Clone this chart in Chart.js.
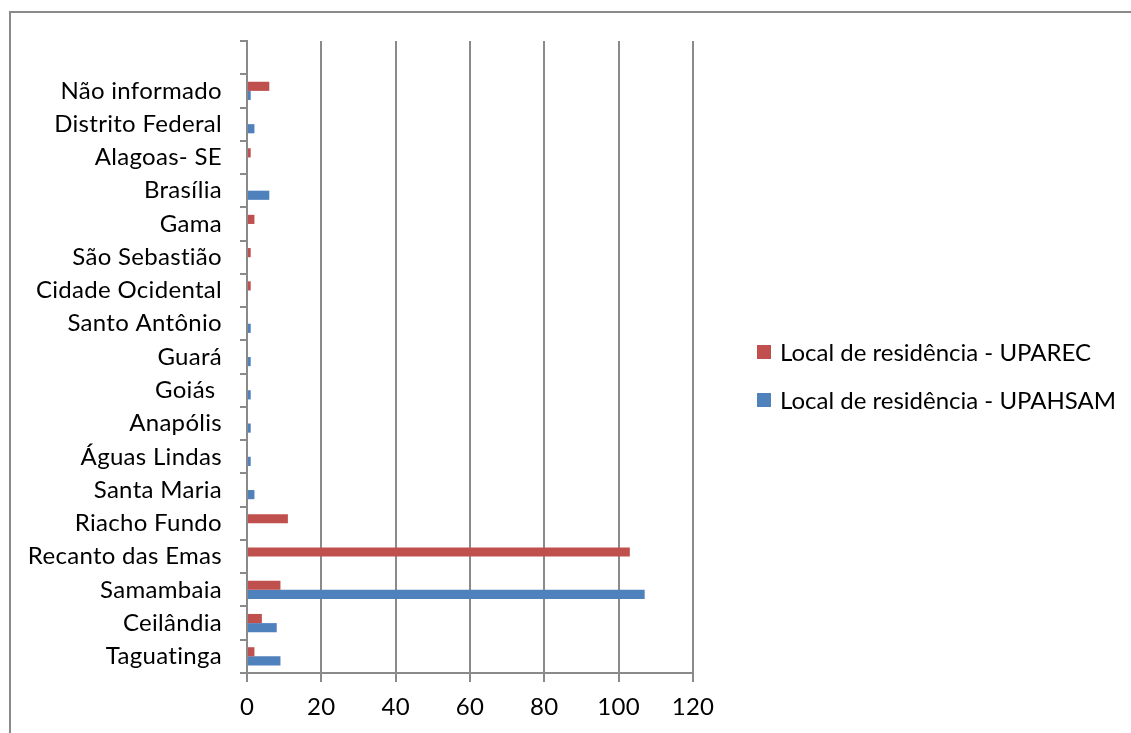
<!DOCTYPE html>
<html>
<head>
<meta charset="utf-8">
<script src="https://cdn.jsdelivr.net/npm/chart.js@4.4.1/dist/chart.umd.min.js"></script>
<style>
  html, body { margin: 0; padding: 0; background: #ffffff; }
  #wrap { position: relative; width: 1131px; height: 733px; }
</style>
</head>
<body>
<div id="wrap"><canvas id="chart" width="1131" height="733"></canvas></div>
<script>
// Categories listed top to bottom (the first band is left empty)
const categories = [
  '', 'Não informado', 'Distrito Federal', 'Alagoas- SE', 'Brasília', 'Gama',
  'São Sebastião', 'Cidade Ocidental', 'Santo Antônio', 'Guará', 'Goiás ',
  'Anapólis', 'Águas Lindas', 'Santa Maria', 'Riacho Fundo', 'Recanto das Emas',
  'Samambaia', 'Ceilândia', 'Taguatinga'
];
const seriesNames = ['Local de residência - UPAREC', 'Local de residência - UPAHSAM'];
const uparec  = [null, 6, null, 1, null, 2, 1, 1, null, null, null, null, null, null, 11, 103, 9, 4, 2];
const upahsam = [null, 1, 2, null, 6, null, null, null, 1, 1, 1, 1, 1, 2, null, null, 107, 8, 9];
const xTicks = [0, 20, 40, 60, 80, 100, 120];

const FONT = 'Lato, "Open Sans", sans-serif';
const FONT_SIZE = 24;
const GRID = '#8a8a8a';
const colors = ['#C0504D', '#4F81BD'];

// Outer frame around the whole chart; also sets text spacing used by the axes
const framePlugin = {
  id: 'frame',
  beforeDraw(chart) {
    const ctx = chart.ctx;
    ctx.letterSpacing = '0.3px';
    ctx.save();
    ctx.strokeStyle = GRID;
    ctx.lineWidth = 2;
    ctx.strokeRect(10, 12, chart.width + 20, chart.height + 20);
    ctx.restore();
  }
};

// Legend drawn to the right of the plot
const sideLegend = {
  id: 'sideLegend',
  afterDraw(chart) {
    const ctx = chart.ctx;
    ctx.save();
    ctx.letterSpacing = '0px';
    ctx.font = FONT_SIZE + 'px ' + FONT;
    ctx.textBaseline = 'middle';
    chart.data.datasets.forEach((ds, i) => {
      const cy = 352 + i * 48;
      ctx.fillStyle = ds.backgroundColor;
      ctx.fillRect(757, cy - 7, 14, 14);
      ctx.fillStyle = '#000';
      ctx.fillText(ds.label, 780, cy + 1);
    });
    ctx.restore();
  }
};

new Chart(document.getElementById('chart'), {
  type: 'bar',
  data: {
    labels: categories,
    datasets: [
      { label: seriesNames[0], data: uparec, backgroundColor: colors[0] },
      { label: seriesNames[1], data: upahsam, backgroundColor: colors[1] }
    ]
  },
  options: {
    indexAxis: 'y',
    responsive: false,
    animation: false,
    categoryPercentage: 0.55,
    barPercentage: 1.0,
    layout: { padding: { left: 10, top: 41, right: 1131 - 693, bottom: 0 } },
    plugins: {
      legend: { display: false },
      tooltip: { enabled: false }
    },
    scales: {
      x: {
        min: 0, max: 120,
        afterBuildTicks(scale) { scale.ticks = xTicks.map(v => ({ value: v })); },
        grid: { color: GRID, lineWidth: 2, drawTicks: true, tickLength: 9, tickColor: GRID },
        border: { color: GRID, width: 2 },
        ticks: { color: '#000', font: { family: FONT, size: FONT_SIZE }, padding: 11, maxRotation: 0 },
        afterFit(scale) { scale.height = 733 - 673; }
      },
      y: {
        grid: { drawOnChartArea: false, drawTicks: true, tickLength: 7, tickColor: GRID, lineWidth: 2, offset: true },
        border: { color: GRID, width: 2 },
        ticks: { color: '#000', font: { family: FONT, size: FONT_SIZE }, padding: 18, autoSkip: false },
        afterFit(scale) { scale.width = 247 - 10; }
      }
    }
  },
  plugins: [framePlugin, sideLegend]
});
</script>
</body>
</html>
